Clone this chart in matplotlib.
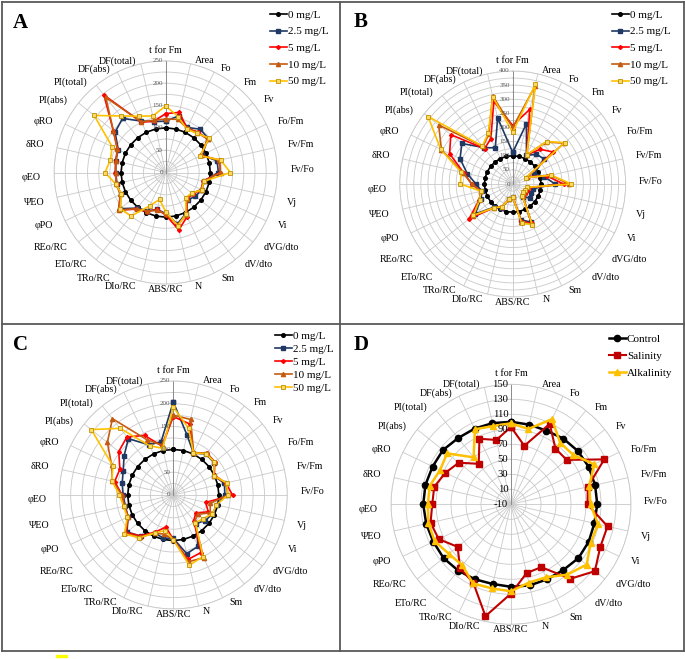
import numpy as np
import matplotlib
matplotlib.use('Agg')
import matplotlib.pyplot as plt
from matplotlib.lines import Line2D
from matplotlib.patches import Rectangle

W, H = 685, 659
plt.rcParams['font.family'] = ['Liberation Serif', 'DejaVu Serif']

CATS = ['t for Fm', 'Area', 'Fo', 'Fm', 'Fv', 'Fo/Fm', 'Fv/Fm', 'Fv/Fo', 'Vj', 'Vi',
        'dVG/dto', 'dV/dto', 'Sm', 'N', 'ABS/RC', 'DIo/RC', 'TRo/RC', 'ETo/RC', 'REo/RC',
        'φPO', 'ΨEO', 'φEO', 'δRO', 'φRO', 'PI(abs)', 'PI(total)', 'DF(abs)', 'DF(total)']

CONC = ['0 mg/L', '2.5 mg/L', '5 mg/L', '10 mg/L', '50 mg/L']

# panel A
A_0 = [100] * 28
A_25 = [115, 130, 112, 124, 122, 90, 118, 118, 88, 90, 85, 79, 103, 118, 92, 85, 95, 102,
        130, 112, 112, 112, 115, 118, 145, 155, 128, 117]
A_5 = [132, 138, 110, 116, 120, 88, 124, 122, 86, 88, 78, 76, 110, 132, 95, 85, 97, 105,
       135, 112, 113, 113, 115, 120, 150, 222, 125, 118]
A_10 = [120, 122, 110, 114, 120, 88, 122, 123, 87, 88, 75, 76, 106, 120, 93, 87, 96, 104,
        135, 113, 114, 112, 114, 120, 150, 215, 126, 120]
A_50 = [149, 128, 108, 112, 124, 86, 126, 145, 88, 90, 74, 72, 104, 122, 88, 62, 83, 125,
        130, 110, 115, 136, 127, 133, 205, 162, 140, 130]

# panel B
B_0 = [100] * 28
B_25 = [112, 219, 112, 135, 142, 85, 115, 150, 75, 70, 78, 60, 150, 130, 45, 55, 95, 105,
        170, 125, 112, 130, 165, 207, 230, 165, 142, 240]
B_5 = [207, 271, 115, 157, 182, 60, 125, 180, 58, 55, 55, 58, 155, 135, 45, 55, 90, 108,
       198, 132, 115, 145, 178, 248, 280, 160, 178, 300]
B_10 = [200, 355, 115, 190, 232, 55, 138, 200, 55, 50, 50, 56, 158, 138, 45, 55, 90, 108,
        180, 132, 115, 145, 180, 280, 335, 170, 195, 320]
B_50 = [183, 362, 115, 192, 235, 53, 140, 208, 52, 48, 48, 55, 160, 142, 45, 55, 90, 108,
        178, 130, 115, 185, 187, 283, 383, 172, 200, 316]

# panel C
C_0 = [100] * 28
C_25 = [204, 135, 102, 115, 114, 98, 115, 113, 98, 95, 90, 80, 125, 132, 95, 97, 93, 115,
        130, 110, 108, 110, 115, 122, 138, 158, 122, 120]
C_5 = [172, 160, 102, 118, 116, 100, 118, 130, 73, 85, 63, 72, 140, 145, 98, 72, 90, 115,
       132, 110, 110, 112, 132, 130, 153, 163, 145, 110]
C_10 = [175, 170, 103, 118, 116, 98, 118, 120, 83, 90, 68, 75, 153, 150, 98, 88, 93, 118,
        135, 110, 110, 112, 137, 150, 185, 214, 135, 112]
C_50 = [193, 150, 102, 116, 115, 98, 120, 120, 97, 95, 83, 78, 150, 158, 98, 80, 92, 120,
        137, 112, 112, 118, 138, 147, 230, 187, 120, 105]

# panel D
D_NAMES = ['Control', 'Salinity', 'Alkalinity']
D_CTRL = [100, 99, 99, 102, 104, 105, 105, 105, 104, 105, 105, 102, 101, 101, 100, 99, 101,
          103, 105, 105, 106, 107, 107, 106, 106, 103, 102, 101]
D_SAL = [93, 70, 109, 85, 85, 128, 95, 92, 122, 122, 133, 117, 83, 84, 109, 143, 106, 99,
         81, 97, 100, 95, 95, 87, 79, 59, 87, 78]
D_ALK = [98, 93, 116, 95, 96, 113, 97, 96, 109, 108, 119, 110, 98, 97, 106, 105, 107, 94,
         96, 103, 103, 101, 101, 95, 99, 70, 101, 97]

STY_CONC = [
    dict(color='black', marker='o', ms=2.6, mfc='black', mec='black', lw=1.2),
    dict(color='#203864', marker='s', ms=2.8, mfc='#203864', mec='#203864', lw=1.2),
    dict(color='#FF0000', marker='D', ms=2.0, mfc='#FF0000', mec='#FF0000', lw=1.2),
    dict(color='#C55A11', marker='^', ms=3.0, mfc='#C55A11', mec='#C55A11', lw=1.2),
    dict(color='#FFC000', marker='s', ms=3.4, mfc='#FFD966', mec='#BF9000', mew=0.6, lw=1.2),
]
STY_D = [
    dict(color='black', marker='o', ms=4.5, mfc='black', mec='black', lw=1.8),
    dict(color='#C00000', marker='s', ms=4.5, mfc='#C00000', mec='#C00000', lw=1.5),
    dict(color='#FFC000', marker='^', ms=5.0, mfc='#FFC000', mec='#FFC000', lw=1.8),
]

PX = 0.72  # points per pixel at 100 dpi
LABEL_STEP = {250: 50, 400: 50, 150: 20}

fig = plt.figure(figsize=(W / 100, H / 100), dpi=100)


def radar(cx, cy, r, rmin, rmax, step, series, names, styles, tick_fs, tick_col):
    ax = fig.add_axes([(cx - r) / W, 1 - (cy + r) / H, 2 * r / W, 2 * r / H],
                      projection='polar')
    ax.set_theta_zero_location('N')
    ax.set_theta_direction(-1)
    theta = np.arange(len(CATS)) * 2 * np.pi / len(CATS)
    ax.set_ylim(rmin, rmax)
    ax.set_xticks(theta)
    ax.set_xticklabels([])
    ax.set_yticks(np.arange(rmin + step, rmax + 0.01, step))
    ax.set_yticklabels([])
    ax.tick_params(length=0)
    ax.grid(color='#c9c9c9', lw=0.6)
    ax.spines['polar'].set_color('#c9c9c9')
    ax.spines['polar'].set_linewidth(0.6)
    ax.plot([0, 0], [rmin, rmax], color='#8c8c8c', lw=0.7)

    for vals, name, st in zip(series, names, styles):
        v = np.append(vals, vals[0])
        t = np.append(theta, theta[0])
        ax.plot(t, v, label=name, clip_on=False, **st)

    # category labels, placed like Excel does (wide gap at the sides)
    for t, lab in zip(theta, CATS):
        s, c = np.sin(t), np.cos(t)
        if abs(s) < 0.05:
            ha = 'center'
            va = 'bottom' if c > 0 else 'top'
            off = (0, 6 * PX if c > 0 else -1 * PX)
        else:
            ha = 'left' if s > 0 else 'right'
            va = 'center'
            dx = np.sign(s) * (2 + 11 * abs(s))
            dy = 3 if c > 0 else -5
            off = (dx * PX, dy * PX)
        ax.annotate(lab, xy=(t, rmax), xytext=off, textcoords='offset points',
                    ha=ha, va=va, fontsize=7.2, annotation_clip=False)

    # value axis labels
    for v in np.arange(rmin, rmax + 0.01, LABEL_STEP[rmax]):
        ax.annotate('%d' % v, xy=(0, v), xytext=(-2, 0), textcoords='offset points',
                    ha='right', va='center', fontsize=tick_fs, color=tick_col,
                    annotation_clip=False)
    return ax


axA = radar(165.7, 172.5, 111.6, 0, 250, 25, [A_0, A_25, A_5, A_10, A_50], CONC, STY_CONC,
            5, '#595959')
axB = radar(512.7, 184, 113, 0, 400, 25, [B_0, B_25, B_5, B_10, B_50], CONC, STY_CONC,
            5, '#595959')
axC = radar(173.3, 495, 114, 0, 250, 25, [C_0, C_25, C_5, C_10, C_50], CONC, STY_CONC,
            5, '#595959')
axD = radar(511, 504.3, 120, -10, 150, 20, [D_CTRL, D_SAL, D_ALK], D_NAMES, STY_D,
            7.7, 'black')

legs = [(axA, 270, 10, 0.62), (axB, 612, 10, 0.62), (axC, 275, 331, 0.3), (axD, 609, 334, 0.66)]
for ax, lx, ly, sp in legs:
    ax.legend(loc='upper left', bbox_to_anchor=(lx / W, 1 - ly / H),
              bbox_transform=fig.transFigure, frameon=False, fontsize=8,
              handlelength=1.5, handletextpad=0.1, labelspacing=sp,
              borderpad=0, borderaxespad=0, numpoints=1)

for letter, x, y in [('A', 13, 23), ('B', 354, 22), ('C', 13, 345), ('D', 354, 345)]:
    fig.text(x / W, 1 - y / H, letter, fontsize=15, fontweight='bold', va='center', ha='left')


# panel frame
def hline(y, x0, x1):
    fig.add_artist(Line2D([x0 / W, x1 / W], [1 - y / H, 1 - y / H], color='#595959', lw=1.3))


def vline(x, y0, y1):
    fig.add_artist(Line2D([x / W, x / W], [1 - y0 / H, 1 - y1 / H], color='#595959', lw=1.3))


hline(1.5, 1.5, 683.5)
hline(324, 1.5, 683.5)
hline(651, 1.5, 683.5)
vline(1.5, 1.5, 651)
vline(340, 1.5, 651)
vline(683.5, 1.5, 651)
fig.add_artist(Rectangle((56 / W, 1 - 657 / H), 11 / W, 2 / H, color='#FFFF00',
                         transform=fig.transFigure))

fig.savefig('out.png', dpi=100)
